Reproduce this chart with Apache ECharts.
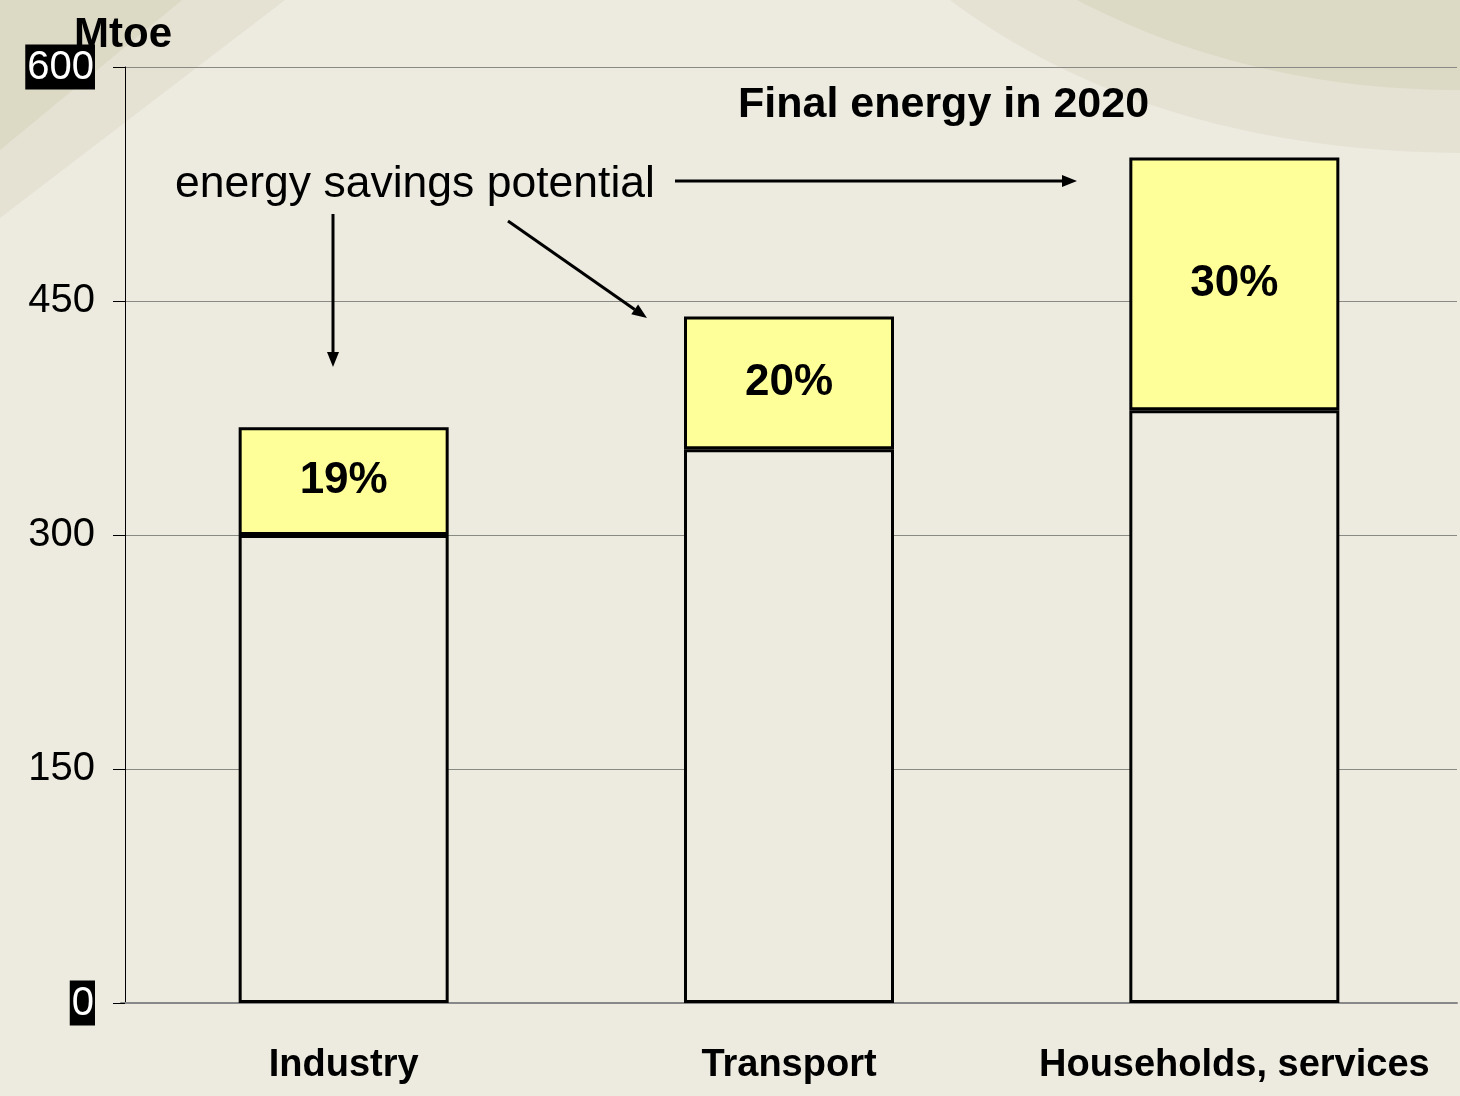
<!DOCTYPE html>
<html>
<head>
<meta charset="utf-8">
<script src="https://cdn.jsdelivr.net/npm/echarts@6/dist/echarts.min.js"></script>
<style>
html,body{margin:0;padding:0;background:#EDEBE0;}
#chart{width:1460px;height:1096px;}
</style>
</head>
<body>
<div id="chart"></div>
<script>
// ---- data ----
var categories = ['Industry', 'Transport', 'Households, services'];
var baseValues = [300, 355, 380];          // final energy after savings (Mtoe)
var savingsValues = [69, 85, 162];         // energy savings potential (Mtoe)
var savingsLabels = ['19%', '20%', '30%'];
var yMin = 0, yMax = 600, yInterval = 150;

var chart = echarts.init(document.getElementById('chart'));
var FONT = '"Liberation Sans", Arial, sans-serif';

function arrow(x1, y1, x2, y2) {
  var dx = x2 - x1, dy = y2 - y1, len = Math.sqrt(dx*dx + dy*dy);
  var ux = dx/len, uy = dy/len, hl = 15, hw = 6;
  var bx = x2 - ux*hl, by = y2 - uy*hl;
  return [
    {type:'line', z:100, shape:{x1:x1,y1:y1,x2:bx,y2:by}, style:{stroke:'#000', lineWidth:3}},
    {type:'polygon', z:100, shape:{points:[[x2,y2],[bx - uy*hw, by + ux*hw],[bx + uy*hw, by - ux*hw]]}, style:{fill:'#000'}}
  ];
}
// decorative curved band (quadratic curve closed to top-right corner)
function swoosh(x0, y0, cx, cy, x1, y1) {
  var pts = [];
  for (var i = 0; i <= 40; i++) {
    var t = i / 40, a = (1-t)*(1-t), b = 2*(1-t)*t, c = t*t;
    pts.push([a*x0 + b*cx + c*x1, a*y0 + b*cy + c*y1]);
  }
  pts.push([1460, 0]);
  return pts;
}

var graphics = [
  {type:'polygon', z:-10, shape:{points:[[0,0],[285,0],[0,218]]}, style:{fill:'#E5E2D4'}},
  {type:'polygon', z:-9, shape:{points:[[0,0],[182,0],[0,150]]}, style:{fill:'#DCD9C5'}},
  {type:'polygon', z:-10, shape:{points:swoosh(950,0,1150,150,1460,153)}, style:{fill:'#E5E2D4'}},
  {type:'polygon', z:-9, shape:{points:swoosh(1077,0,1250,90,1460,90)}, style:{fill:'#DCD9C5'}}
];
graphics = graphics.concat(arrow(675,181,1077,181), arrow(333,214,333,367), arrow(508,221,647,318));

var option = {
  backgroundColor: '#EDEBE0',
  animation: false,
  title: [
    {text:'Final energy in 2020', left:733, top:79, textStyle:{fontFamily:FONT, fontSize:43, fontWeight:'bold', color:'#000'}},
    {text:'energy savings potential', left:170, top:157, textStyle:{fontFamily:FONT, fontSize:44.5, fontWeight:'normal', color:'#000'}},
    {text:'Mtoe', left:69, top:9, textStyle:{fontFamily:FONT, fontSize:42, fontWeight:'bold', color:'#000'}}
  ],
  grid: {left:121, right:3, top:67, bottom:93, containLabel:false},
  xAxis: {
    type:'category', data:categories,
    axisLine:{show:true, lineStyle:{color:'#888', width:2}},
    axisTick:{show:false},
    axisLabel:{interval:0, margin:44, fontFamily:FONT, fontSize:38, fontWeight:'bold', color:'#000'}
  },
  yAxis: {
    type:'value', min:yMin, max:yMax, interval:yInterval, offset:-4,
    axisLine:{show:true, lineStyle:{color:'#000', width:1}},
    axisTick:{show:true, inside:false, length:12, lineStyle:{color:'#000'}},
    splitLine:{show:true, lineStyle:{color:'#8a8a85', width:1}},
    axisLabel:{
      margin:30, fontFamily:FONT, fontSize:40, color:'#000',
      formatter:function(v){ return (v===yMin||v===yMax) ? '{hl|'+v+'}' : String(v); },
      rich:{hl:{backgroundColor:'#000', color:'#fff', fontFamily:FONT, fontSize:40, padding:[3,1,2,2]}}
    }
  },
  series: [
    {
      name:'Final energy', type:'bar', stack:'total', barWidth:210,
      data: baseValues,
      itemStyle:{color:'#EDEBE0', borderColor:'#000', borderWidth:3}
    },
    {
      name:'Savings', type:'bar', stack:'total', barWidth:210,
      data: savingsValues,
      itemStyle:{color:'#FFFF99', borderColor:'#000', borderWidth:3},
      label:{
        show:true, position:'inside', fontFamily:FONT, fontSize:44, fontWeight:'bold', color:'#000',
        formatter:function(p){ return savingsLabels[p.dataIndex]; }
      }
    }
  ],
  graphic: graphics
};
chart.setOption(option);
</script>
</body>
</html>
